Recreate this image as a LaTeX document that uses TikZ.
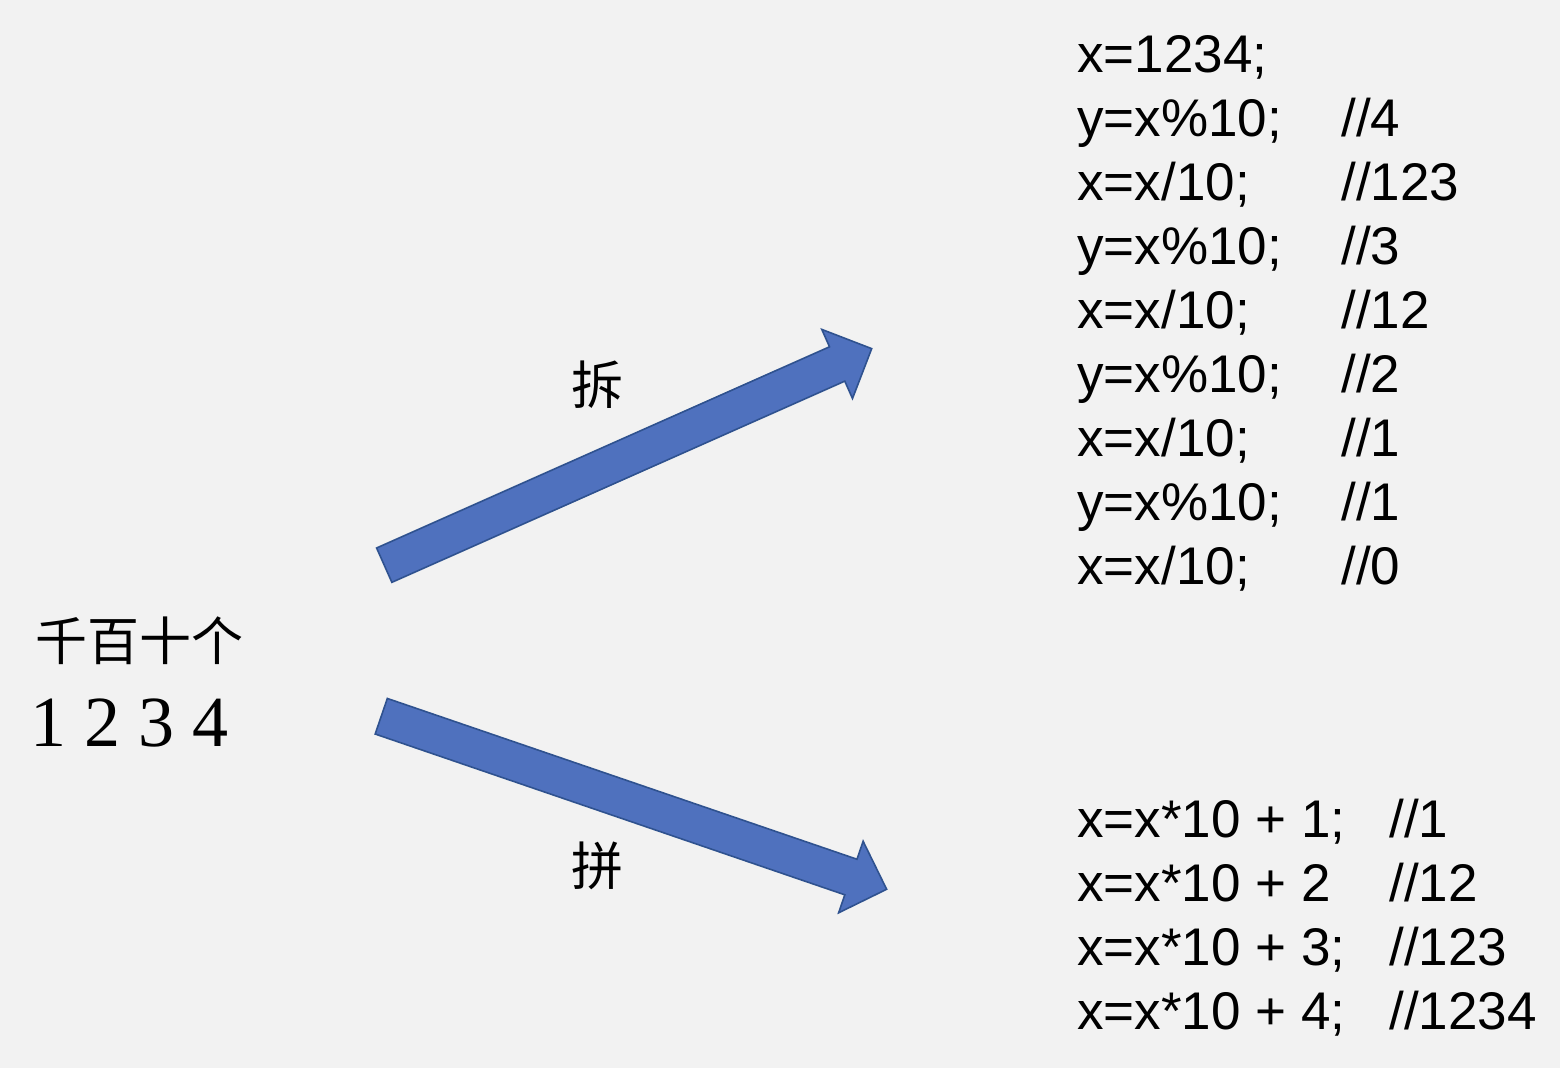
\documentclass[tikz,border=0pt]{standalone}
\usepackage{fontspec}
\setmainfont{Liberation Serif}
\newfontfamily\codefont{Liberation Sans}
\newfontfamily\cjk{Noto Sans CJK SC}
\usepackage{xcolor}
\usepackage{tikz}
\usetikzlibrary{shapes.arrows}
\definecolor{bggray}{HTML}{F2F2F2}
\definecolor{arrowblue}{HTML}{4F71BE}
\definecolor{arrowedge}{HTML}{2F528F}

\begin{document}
\begin{tikzpicture}[x=0.5pt,y=0.5pt]
  \tikzstyle{bigarrow}=[single arrow,draw=arrowedge,fill=arrowblue,line width=0.8pt,inner xsep=0pt,inner ysep=9pt,minimum width=37pt,single arrow head extend=9.5pt,anchor=tail]
  \tikzstyle{code}=[inner sep=0pt,anchor=base west,font=\codefont\fontsize{26.5}{32}\selectfont]
  \tikzstyle{hanzi}=[inner sep=0pt,font=\cjk\fontsize{26}{30}\selectfont]
  \fill[bggray] (0,0) rectangle (1560,1068);
  \useasboundingbox (0,0) rectangle (1560,1068);
  % the number and its places
  \node[hanzi,anchor=west] (places) at (35,427) {千百十个};
  \node[inner sep=0pt,anchor=base west,font=\fontsize{36}{40}\selectfont] (digits) at (30,321) {1 2 3 4};
  % split / join arrows
  \node[bigarrow,minimum height=266.7pt,rotate=23.95] (splitarrow) at (383.5,502.5) {};
  \node[bigarrow,minimum height=267.1pt,rotate=-18.9] (joinarrow) at (380.5,352) {};
  \node[hanzi] (splitlabel) at (597,683) {拆};
  \node[hanzi] (joinlabel) at (597,202) {拼};
  % code
  \node[code] (splitcode) at (1077,995) {\begin{tabular}[t]{@{}p{132pt}@{}l@{}}
    x=1234; & \\
    y=x\%10; & //4 \\
    x=x/10; & //123 \\
    y=x\%10; & //3 \\
    x=x/10; & //12 \\
    y=x\%10; & //2 \\
    x=x/10; & //1 \\
    y=x\%10; & //1 \\
    x=x/10; & //0
  \end{tabular}};
  \node[code] (joincode) at (1077,230) {\begin{tabular}[t]{@{}p{156pt}@{}l@{}}
    x=x*10 + 1; & //1 \\
    x=x*10 + 2 & //12 \\
    x=x*10 + 3; & //123 \\
    x=x*10 + 4; & //1234
  \end{tabular}};
\end{tikzpicture}
\end{document}
